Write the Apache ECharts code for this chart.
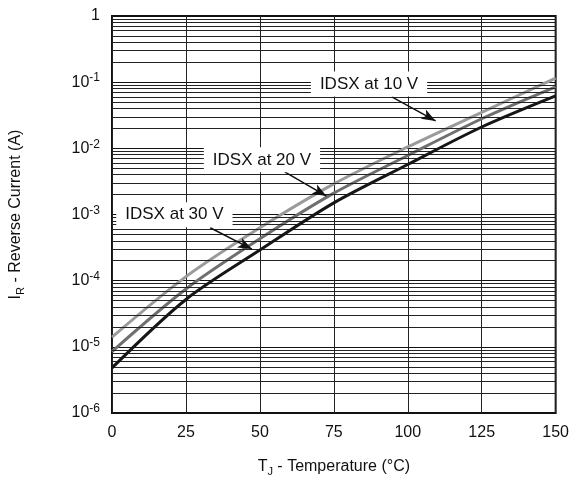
<!DOCTYPE html>
<html>
	<head>
		<meta charset="UTF-8" />
		<title>IR vs TJ</title>
		<style>
			html, body { margin: 0; padding: 0; background: #fff; }
			#chart { width: 572px; height: 482px; }
		</style>
	</head>
	<body>
		<div id="chart"></div>
		<script src="https://cdn.jsdelivr.net/npm/echarts@6/dist/echarts.min.js"></script>
		<script>
			// junction temperature (°C)
			const temperatures = [0, 25, 50, 75, 100, 125, 150];
			// reverse current (A)
			const idsx10V = [1.4e-5, 1.15e-4, 6.3e-4, 2.9e-3, 1.05e-2, 3.5e-2, 0.115];
			const idsx20V = [8.5e-6, 7.5e-5, 4.3e-4, 2.1e-3, 7.8e-3, 2.8e-2, 0.085];
			const idsx30V = [4.8e-6, 5.2e-5, 2.9e-4, 1.5e-3, 5.7e-3, 2.1e-2, 0.062];
			const xTicks = [0, 25, 50, 75, 100, 125, 150];
			const decades = [-6, -5, -4, -3, -2, -1];
			const minorSteps = [2, 3, 4, 5, 6, 7, 8, 9];

			// callouts: text, where the text sits, arrow start and tip (data units)
			const calloutTexts = ['IDSX at 10 V', 'IDSX at 20 V', 'IDSX at 30 V'];
			const calloutAt = [[86.9, 0.094], [50.7, 6.7e-3], [21.1, 9.9e-4]];
			const arrowFrom = [[94.6, 0.06], [58.4, 4.4e-3], [33.2, 6.3e-4]];
			const arrowTo = [[109.4, 0.026], [72.5, 1.9e-3], [47.3, 3.0e-4]];

			const font = 'Liberation Sans, Arial, Helvetica, sans-serif';
			const pairs = ys => temperatures.map((t, i) => [t, ys[i]]);

			// minor log gridlines 2..9 in each decade (coord pairs, yAxis values get rounded away)
			const minorLines = [];
			decades.forEach(d => minorSteps.forEach(m => {
				const v = m * Math.pow(10, d);
				minorLines.push([{ coord: [xTicks[0], v] }, { coord: [xTicks[xTicks.length - 1], v] }]);
			}));

			const chart = echarts.init(document.getElementById('chart'));
			const curve = (name, ys, color, z) => ({
				name: name,
				type: 'line',
				data: pairs(ys),
				showSymbol: false,
				smooth: 0.3,
				z: z,
				lineStyle: { color: color, width: 3 },
				itemStyle: { color: color }
			});

			chart.setOption({
				animation: false,
				grid: {
					left: 111, right: 14, top: 16, bottom: 69,
					show: true, borderColor: '#111', borderWidth: 2
				},
				xAxis: {
					type: 'value',
					min: 0, max: 150, interval: 25,
					axisLine: { show: false },
					axisTick: { show: false },
					axisLabel: {
						margin: 12, fontFamily: font, fontSize: 16, color: '#111',
						customValues: xTicks
					},
					splitLine: { show: true, lineStyle: { color: '#222', width: 1 } },
					name: '{m|T}{sub|J}{m| - Temperature (°C)}',
					nameLocation: 'middle',
					nameGap: 44,
					nameTextStyle: {
						rich: {
							m: { fontFamily: font, fontSize: 16, color: '#111', lineHeight: 20 },
							sub: { fontFamily: font, fontSize: 11, color: '#111', verticalAlign: 'bottom', lineHeight: 14 }
						}
					}
				},
				yAxis: {
					type: 'log',
					logBase: 10,
					min: 1e-6, max: 1, interval: 1,
					axisLine: { show: false },
					axisTick: { show: false },
					axisLabel: {
						margin: 12,
						formatter: v => {
							const e = Math.round(Math.log10(v));
							return e === 0 ? '{b|1}' : '{b|10}{sup|' + e + '}';
						},
						rich: {
							b: { fontFamily: font, fontSize: 16, color: '#111', lineHeight: 20 },
							sup: { fontFamily: font, fontSize: 12, color: '#111', verticalAlign: 'top', lineHeight: 12 }
						}
					},
					splitLine: { show: true, lineStyle: { color: '#111', width: 1 } },
					name: '{m|I}{sub|R}{m| - Reverse Current (A)}',
					nameLocation: 'middle',
					nameGap: 86,
					nameTextStyle: {
						rich: {
							m: { fontFamily: font, fontSize: 16, color: '#111', lineHeight: 20 },
							sub: { fontFamily: font, fontSize: 11, color: '#111', verticalAlign: 'bottom', lineHeight: 14 }
						}
					}
				},
				series: [
					{
						name: 'grid',
						type: 'line',
						data: [],
						z: 1,
						silent: true,
						markLine: {
							silent: true,
							symbol: ['none', 'none'],
							label: { show: false },
							lineStyle: { color: '#222', width: 1, type: 'solid' },
							data: minorLines
						}
					},
					curve('IDSX at 10 V', idsx10V, '#9b9b9b', 3),
					curve('IDSX at 20 V', idsx20V, '#6f6f6f', 4),
					curve('IDSX at 30 V', idsx30V, '#161616', 5),
					{
						name: 'callouts',
						type: 'line',
						data: [],
						z: 6,
						silent: true,
						markPoint: {
							silent: true,
							symbol: 'rect',
							symbolSize: 0,
							label: {
								show: true,
								position: 'inside',
								fontFamily: font,
								fontSize: 17,
								color: '#111',
								backgroundColor: '#fff',
								padding: [4, 9]
							},
							data: calloutTexts.map((t, i) => ({
								coord: calloutAt[i],
								value: t,
								label: { formatter: t }
							}))
						},
						markLine: {
							silent: true,
							symbol: ['none', 'arrow'],
							symbolSize: [8, 14],
							label: { show: false },
							lineStyle: { color: '#111', width: 1.5, type: 'solid' },
							data: arrowFrom.map((p, i) => [{ coord: p }, { coord: arrowTo[i] }])
						}
					}
				]
			});
		</script>
	</body>
</html>
